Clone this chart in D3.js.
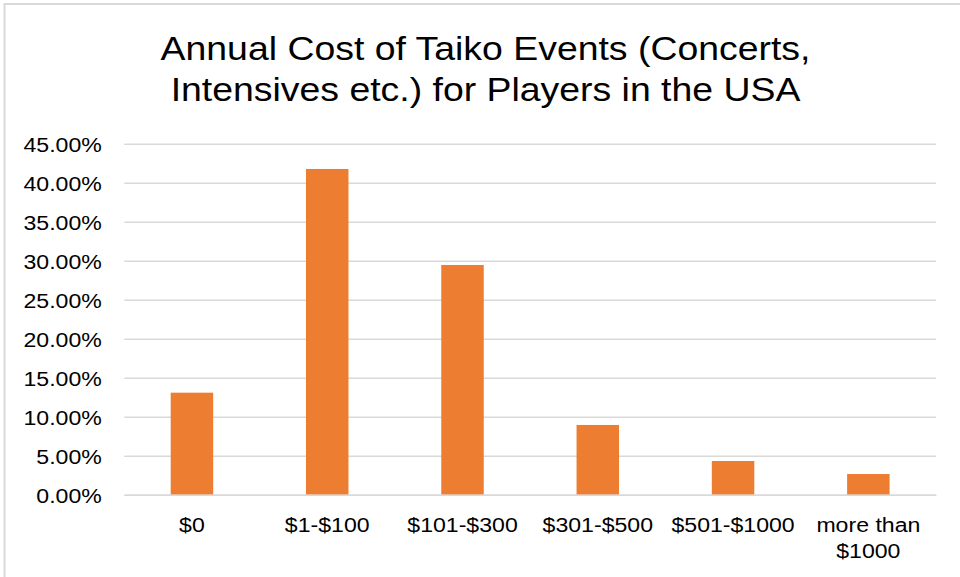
<!DOCTYPE html>
<html><head><meta charset="utf-8">
<script src="https://cdn.jsdelivr.net/npm/d3@7"></script>
<style>body{margin:0;background:#fff}svg{display:block}</style>
</head><body>
<svg id="c" width="960" height="577"></svg>
<script>
const categories = ["$0", "$1-$100", "$101-$300", "$301-$500", "$501-$1000", "more than $1000"];
const values = [13.08, 41.76, 29.45, 8.94, 4.32, 2.65];
const yTicks = [0, 5, 10, 15, 20, 25, 30, 35, 40, 45];
const titleLines = ["Annual Cost of Taiko Events (Concerts,", "Intensives etc.) for Players in the USA"];
const catLines = {"more than $1000": ["more than", "$1000"]};

(function() {
const svg = d3.select("#c");
const font = "'Liberation Sans', Arial, sans-serif";
const sx = 1.1; // horizontal stretch of the reference's text
svg.append("rect").attr("x", 4.5).attr("y", 4).attr("width", 1000).attr("height", 1000)
  .attr("fill", "none").attr("stroke", "#d9d9d9").attr("stroke-width", 2);

const pL = 124.3, pR = 936, pT = 143.7, pB = 494.7;
const x = d3.scaleBand().domain(categories).range([pL, pR]).paddingInner(0.686).paddingOuter(0.343);
const y = d3.scaleLinear().domain([0, 45]).range([pB, pT]);

const yAxis = d3.axisLeft(y).tickValues(yTicks).tickSize(-(pR - pL)).tickFormat(d => d.toFixed(2) + "%");
const gy = svg.append("g").attr("transform", `translate(${pL},0)`).call(yAxis);
gy.select(".domain").remove();
gy.selectAll(".tick line").attr("stroke", "#d9d9d9").attr("stroke-width", 1.5);
gy.selectAll(".tick text").attr("x", 0).attr("fill", "#000")
  .attr("transform", `translate(-22.5,0) scale(${sx},1)`)
  .style("font-family", font).style("font-size", "21px").attr("dy", "0.35em");

svg.append("g").selectAll("rect").data(values).join("rect")
  .attr("x", (d, i) => x(categories[i]))
  .attr("width", x.bandwidth())
  .attr("y", d => y(d))
  .attr("height", d => y(0) - y(d))
  .attr("fill", "#ED7D31");

const xAxis = d3.axisBottom(x).tickSize(0).tickFormat("");
const gx = svg.append("g").attr("transform", `translate(0,${pB})`).call(xAxis);
gx.select(".domain").attr("stroke", "#d9d9d9").attr("stroke-width", 1.5);
gx.selectAll(".tick").each(function(d) {
  const lines = catLines[d] || [d];
  const t = d3.select(this).append("text").attr("fill", "#000").attr("text-anchor", "middle")
    .attr("transform", `scale(${sx},1)`)
    .style("font-family", font).style("font-size", "21px");
  lines.forEach((l, i) => t.append("tspan").attr("x", 0).attr("y", 37 + i * 26.5).text(l));
});

const tt = svg.append("text").attr("text-anchor", "middle").attr("fill", "#000")
  .attr("transform", `translate(485.5,0) scale(${sx},1)`)
  .style("font-family", font).style("font-size", "34px");
titleLines.forEach((l, i) => tt.append("tspan").attr("x", 0).attr("y", 60 + i * 41.5).text(l));
})();
</script>
</body></html>
